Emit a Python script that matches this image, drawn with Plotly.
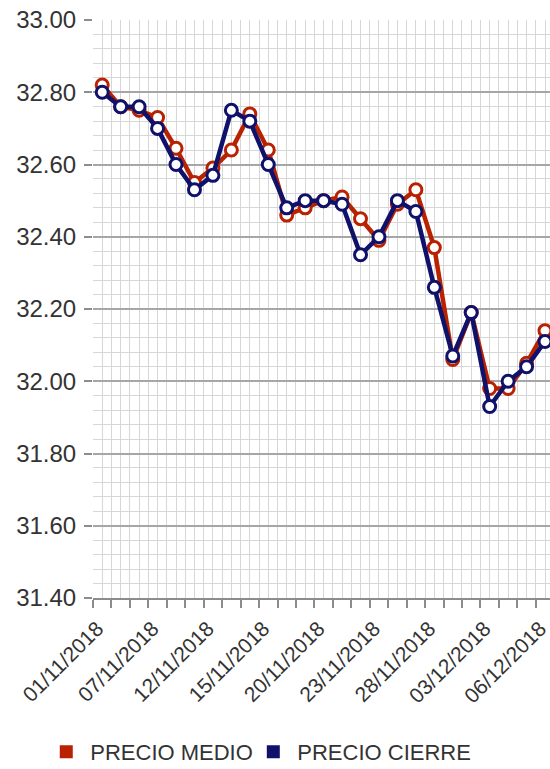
import plotly.graph_objects as go

dates = ["01/11/2018", "02/11/2018", "05/11/2018", "07/11/2018", "08/11/2018",
         "09/11/2018", "12/11/2018", "13/11/2018", "14/11/2018", "15/11/2018",
         "16/11/2018", "19/11/2018", "20/11/2018", "21/11/2018", "22/11/2018",
         "23/11/2018", "26/11/2018", "27/11/2018", "28/11/2018", "29/11/2018",
         "30/11/2018", "03/12/2018", "04/12/2018", "05/12/2018", "06/12/2018"]

precio_medio = [32.82, 32.76, 32.75, 32.73, 32.645, 32.55, 32.59, 32.64, 32.74, 32.64,
                32.46, 32.48, 32.50, 32.51, 32.45, 32.39, 32.49, 32.53, 32.37, 32.06,
                32.19, 31.98, 31.98, 32.05, 32.14]
precio_cierre = [32.80, 32.76, 32.76, 32.70, 32.60, 32.53, 32.57, 32.75, 32.72, 32.60,
                 32.48, 32.50, 32.50, 32.49, 32.35, 32.40, 32.50, 32.47, 32.26, 32.07,
                 32.19, 31.93, 32.00, 32.04, 32.11]

y_ticks = [31.40, 31.60, 31.80, 32.00, 32.20, 32.40, 32.60, 32.80, 33.00]

RED = "#b82200"
NAVY = "#10116b"
FONT = "Liberation Sans, Arial, sans-serif"

idx = list(range(len(dates)))
label_idx = [i for i in idx if i % 3 == 0]

# gridlines at every half category; labels every third category
grid_vals = [i * 0.5 for i in range(-1, 2 * len(dates))]
tick_text = []
for v in grid_vals:
    if v >= 0 and float(v).is_integer() and int(v) in label_idx:
        tick_text.append(dates[int(v)])
    else:
        tick_text.append("")
boundaries = [i - 0.5 for i in range(len(dates) + 1)]

fig = go.Figure()
fig.add_trace(go.Scatter(
    x=idx, y=precio_medio, mode="lines+markers", name="PRECIO MEDIO",
    line=dict(color=RED, width=4.5),
    marker=dict(size=12, color="white", line=dict(color=RED, width=3)),
    showlegend=False))
fig.add_trace(go.Scatter(
    x=idx, y=precio_cierre, mode="lines+markers", name="PRECIO CIERRE",
    line=dict(color=NAVY, width=4.5),
    marker=dict(size=12, color="white", line=dict(color=NAVY, width=3)),
    showlegend=False))
# legend entries (square swatches)
fig.add_trace(go.Scatter(x=[None], y=[None], mode="markers", name="PRECIO MEDIO",
                         marker=dict(symbol="square", size=13, color=RED),
                         legend="legend"))
fig.add_trace(go.Scatter(x=[None], y=[None], mode="markers", name="PRECIO CIERRE",
                         marker=dict(symbol="square", size=13, color=NAVY),
                         legend="legend2"))

leg_common = dict(orientation="h", xanchor="left", y=-0.2664, yanchor="middle",
                  font=dict(size=22, color="#333333"), itemwidth=38,
                  bgcolor="rgba(0,0,0,0)")

fig.update_layout(
    width=550, height=769,
    margin=dict(l=93, r=0, t=20, b=171, autoexpand=False),
    paper_bgcolor="white", plot_bgcolor="white",
    font=dict(family=FONT, size=20, color="#333333"),
    showlegend=True,
    legend=dict(x=-0.111, **leg_common),
    legend2=dict(x=0.342, **leg_common),
    xaxis=dict(
        range=[-0.5, 24.27], tickmode="array", tickvals=grid_vals, ticktext=tick_text,
        tickangle=-45, ticks="", showgrid=True, gridcolor="#d6d6d6", gridwidth=1,
        zeroline=False, showline=True, linecolor="#8c8c8c", linewidth=2,
        automargin=False, ticklabeloverflow="allow",
        ticklabelstandoff=8, ticklabelshift=-5,
        tickfont=dict(size=21, color="#333333"),
        minor=dict(tickmode="array", tickvals=boundaries, ticks="outside",
                   ticklen=8, tickwidth=2, tickcolor="#8c8c8c", showgrid=False),
    ),
    yaxis=dict(
        range=[31.40, 33.00], tickmode="array", tickvals=y_ticks,
        ticktext=[f"{v:.2f}" for v in y_ticks],
        ticks="outside", ticklen=8, tickwidth=2, tickcolor="#8c8c8c",
        showgrid=True, gridcolor="#a6a6a6", gridwidth=1.5, zeroline=False,
        showline=False, ticklabelstandoff=3, automargin=False,
        ticklabeloverflow="allow",
        tickfont=dict(size=24, color="#333333"),
        minor=dict(dtick=0.04, tick0=31.40, showgrid=True, gridcolor="#d6d6d6",
                   gridwidth=1, ticks=""),
    ),
)

# remove the browser's default 8px body margin so the figure fills the window
fig.write_html("out.html", config={"displayModeBar": False},
               post_script="document.body.style.margin='0';"
                           "document.body.style.overflow='hidden';")
